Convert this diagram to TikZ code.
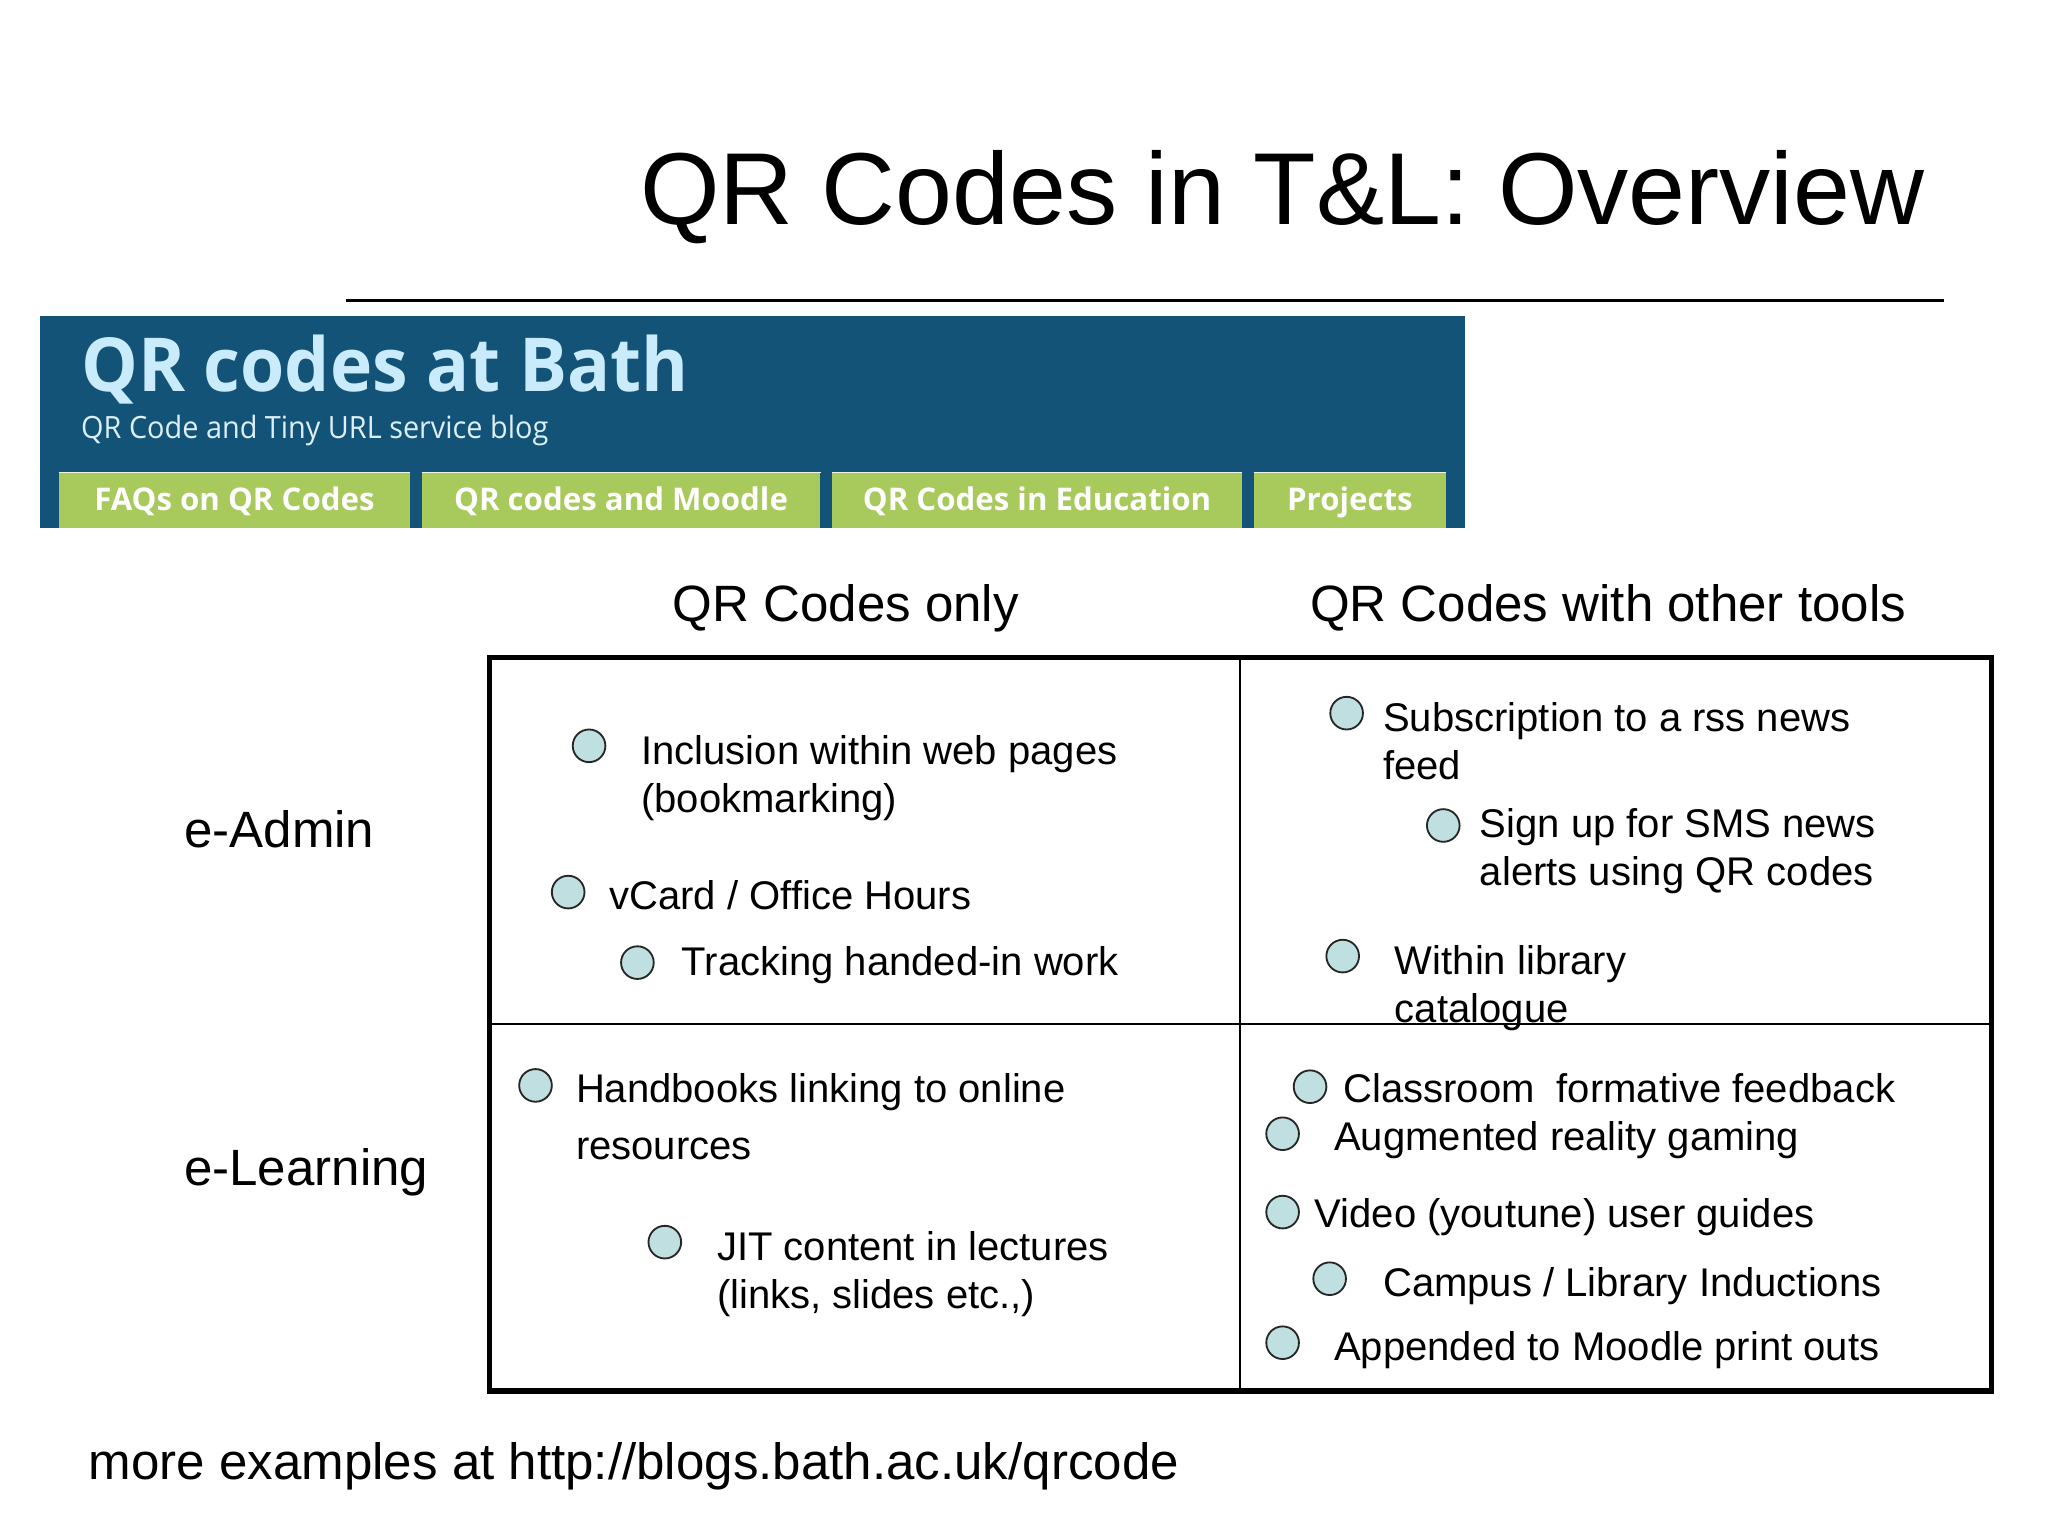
\documentclass[tikz,border=0pt]{standalone}
\usepackage{fontspec}
\setmainfont{Liberation Sans}
\newfontfamily\blogfont{Open Sans}
\newfontfamily\blogtitlefont[FakeStretch=0.96]{Open Sans}
\newfontfamily\blogsubfont[FakeStretch=0.94]{Open Sans}
\definecolor{blogblue}{HTML}{135377}
\definecolor{blogtitle}{HTML}{C9EBFB}
\definecolor{blogsub}{HTML}{DCEFF7}
\definecolor{tabgreen}{HTML}{A8C95C}
\definecolor{bulletfill}{HTML}{BFDFE0}
\tikzset{
  txt/.style={anchor=base west,inner sep=0pt,outer sep=0pt,text=black},
  titletxt/.style={txt,font=\fontsize{78.3}{78.3}\selectfont},
  headtxt/.style={txt,font=\fontsize{39.1}{39.1}\selectfont},
  item/.style={txt,font=\fontsize{30.65}{37}\selectfont,align=left},
  bullet/.style={circle,draw=black!85,line width=1.4pt,fill=bulletfill,minimum size=25pt,inner sep=0pt},
  tabbox/.style={rectangle,fill=tabgreen,inner sep=0pt,minimum height=42pt,text height=16pt,text depth=0pt,text=white,font=\blogfont\bfseries\fontsize{23.9}{23.9}\selectfont},
  tabline/.style={draw=white!80!tabgreen,line width=1pt},
  gridouter/.style={draw=black,line width=4pt,line cap=round},
  gridinner/.style={draw=black,line width=2pt}
}
\begin{document}
\begin{tikzpicture}[x=1pt,y=-1pt]
\useasboundingbox (0,0) rectangle (1568,1176);
\fill[white] (0,0) rectangle (1568,1176);
% title
\node[titletxt] (title) at (490,172) {QR Codes in T\&L: Overview};
\coordinate (ruleL) at (265,230);
\coordinate (ruleR) at (1488,230);
\draw[line width=1.8pt] (ruleL) -- (ruleR);
% blog banner
\fill[blogblue] (31,242) rectangle (1122,404);
\node[anchor=base west,inner sep=0pt,text=blogtitle,font=\blogtitlefont\bfseries\fontsize{57}{57}\selectfont] (blogtitle) at (62,299.5) {QR codes at Bath};
\node[anchor=base west,inner sep=0pt,text=blogsub,font=\blogsubfont\fontsize{23.5}{23.5}\selectfont] (blogsub) at (62,336) {QR Code and Tiny URL service blog};
\node[tabbox,minimum width=269pt] (tab1) at (179.5,383) {FAQs on QR Codes};
\node[tabbox,minimum width=305pt] (tab2) at (475.5,383) {QR codes and Moodle};
\node[tabbox,minimum width=314pt] (tab3) at (794,383) {QR Codes in Education};
\node[tabbox,minimum width=147pt] (tab4) at (1033.5,383) {Projects};
\foreach \t in {tab1,tab2,tab3,tab4}{\draw[tabline] (\t.north west) -- (\t.north east);}
% headers
\node[headtxt] (h1) at (515,476) {QR Codes only};
\node[headtxt] (h2) at (1003,476) {QR Codes with other tools};
\node[headtxt] (r1) at (141,649) {e-Admin};
\node[headtxt] (r2) at (141,908) {e-Learning};
\node[headtxt] (more) at (68,1133) {more examples at http://blogs.bath.ac.uk/qrcode};
% table
\coordinate (tl) at (375,503.5);
\coordinate (br) at (1525,1065);
\coordinate (vt) at (949.5,503.5);
\coordinate (vb) at (949.5,1065);
\coordinate (hl) at (375,784);
\coordinate (hr) at (1525,784);
\draw[gridinner] (vt) -- (vb);
\draw[gridinner] (hl) -- (hr);
\draw[gridouter] (tl) rectangle (br);
% cell 1 (multi-line nodes are placed by the baseline of their last line)
\node[bullet] (b1) at (451,571) {};
\node[item] (t1) at (491,622) {Inclusion within web pages\\(bookmarking)};
\node[bullet] (b2) at (435,683) {};
\node[item] (t2) at (466.5,696) {vCard / Office Hours};
\node[bullet] (b3) at (488,737) {};
\node[item] (t3) at (522,747) {Tracking handed-in work};
% cell 2
\node[bullet] (b4) at (1031,546) {};
\node[item] (t4) at (1059,597) {Subscription to a rss news\\feed};
\node[bullet] (b5) at (1105,632) {};
\node[item] (t5) at (1133,678) {Sign up for SMS news\\alerts using QR codes};
\node[bullet] (b6) at (1028,732) {};
\node[item] (t6) at (1068,783) {Within library\\catalogue};
% cell 3
\node[bullet] (b7) at (410,831) {};
\node[item,font=\fontsize{30.65}{44}\selectfont] (t7) at (441,888) {Handbooks linking to online\\resources};
\node[bullet] (b8) at (509,951) {};
\node[item] (t8) at (549,1002) {JIT content in lectures\\(links, slides etc.,)};
% cell 4
\node[bullet] (b9) at (1003,832) {};
\node[item] (t9) at (1028.5,844) {Classroom\ \ formative feedback};
\node[bullet] (b10) at (982,868) {};
\node[item] (t10) at (1021.5,881) {Augmented reality gaming};
\node[bullet] (b11) at (982,928) {};
\node[item] (t11) at (1006.5,940) {Video (youtune) user guides};
\node[bullet] (b12) at (1018,979) {};
\node[item] (t12) at (1059,992.5) {Campus / Library Inductions};
\node[bullet] (b13) at (982,1028) {};
\node[item] (t13) at (1021.5,1041.5) {Appended to Moodle print outs};
\end{tikzpicture}
\end{document}
